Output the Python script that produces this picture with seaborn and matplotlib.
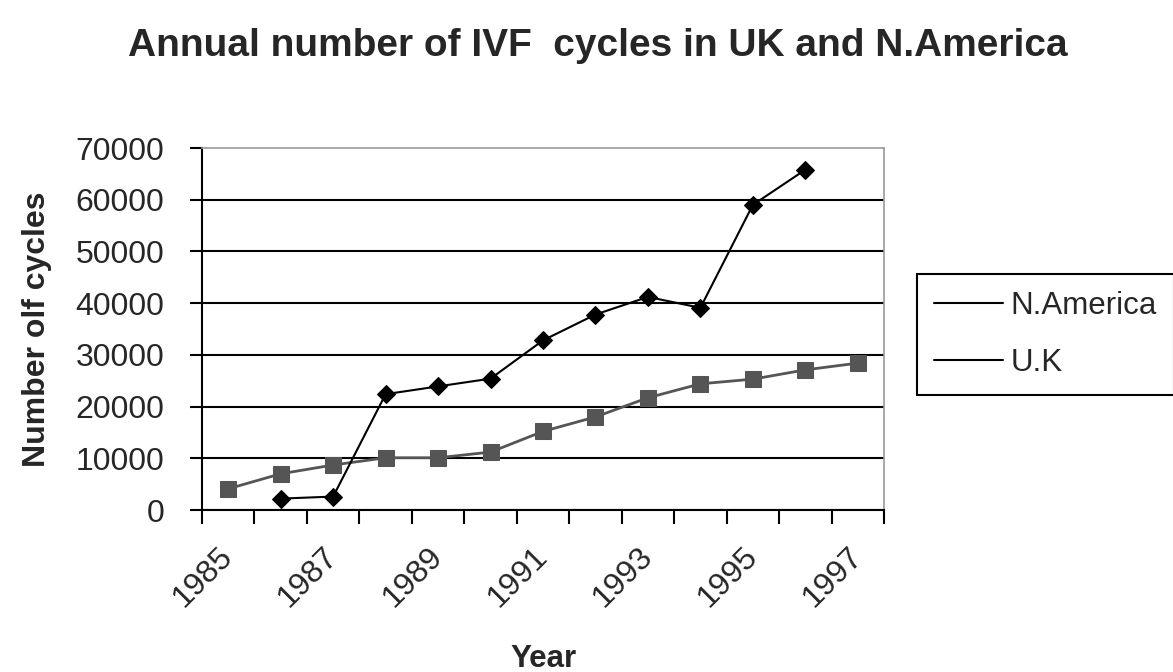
import matplotlib
matplotlib.use("Agg")
import matplotlib.pyplot as plt
import numpy as np
import pandas as pd
import seaborn as sns
from matplotlib.lines import Line2D

# values
years = [1985, 1986, 1987, 1988, 1989, 1990, 1991, 1992, 1993, 1994, 1995, 1996, 1997]
uk_cycles = [4100, 7000, 8700, 10100, 10100, 11200, 15200, 18000, 21700, 24400, 25300, 27100, 28400]
na_cycles = [np.nan, 2200, 2600, 22400, 23900, 25400, 32800, 37800, 41200, 39100, 59000, 65800, np.nan]
year_labels = [1985, 1987, 1989, 1991, 1993, 1995, 1997]
y_ticks = [0, 10000, 20000, 30000, 40000, 50000, 60000, 70000]
series_names = ["N.America", "U.K"]

sns.set_theme(style="white")
plt.rcParams["font.family"] = ["Liberation Sans", "DejaVu Sans"]

fig = plt.figure(figsize=(11.73, 6.72), dpi=100)
ax = fig.add_axes([202 / 1173, 1 - 510 / 672, 682 / 1173, 362 / 672])

df_uk = pd.DataFrame({"Year": years, "Cycles": uk_cycles})
df_na = pd.DataFrame({"Year": years, "Cycles": na_cycles}).dropna()

sns.lineplot(data=df_uk, x="Year", y="Cycles", ax=ax, color="#555555", linewidth=2,
             marker="s", markersize=11.5, markeredgecolor="#555555", legend=False)
sns.lineplot(data=df_na, x="Year", y="Cycles", ax=ax, color="black", linewidth=1.5,
             marker="D", markersize=9.5, markeredgecolor="black", legend=False)

# x axis: category style, marks between years, every other year labelled
ax.set_xlim(1984.5, 1997.5)
ax.set_xticks(year_labels)
ax.set_xticklabels([str(y) for y in year_labels])
ax.set_xticks(np.arange(1984.5, 1998, 1), minor=True)
ax.tick_params(axis="x", which="major", length=0, pad=30, labelsize=23, bottom=True)
ax.tick_params(axis="x", which="minor", length=10, width=1.5, color="black",
               direction="out", bottom=True)
for lab in ax.get_xticklabels():
    lab.set_rotation(45)
    lab.set_ha("right")
    lab.set_va("center")
    lab.set_rotation_mode("anchor")

ax.set_ylim(0, 70000)
ax.set_yticks(y_ticks)
ax.set_yticklabels([str(v) for v in y_ticks])
ax.tick_params(axis="y", length=9, width=1.5, color="black", direction="out",
               pad=18, labelsize=23, left=True)

ax.grid(axis="y", color="black", linewidth=1.5)
ax.xaxis.grid(False)
ax.yaxis.get_major_ticks()[-1].gridline.set_visible(False)

for side in ["left", "bottom"]:
    ax.spines[side].set_color("black")
    ax.spines[side].set_linewidth(1.5)
for side in ["top", "right"]:
    ax.spines[side].set_color("#9a9a9a")
    ax.spines[side].set_linewidth(1.2)

ax.set_xlabel("Year", fontsize=22.5, fontweight="bold")
ax.xaxis.set_label_coords(0.5, -0.37)
ax.set_ylabel("Number olf cycles", fontsize=23, fontweight="bold")
ax.yaxis.set_label_coords(-0.22, 0.5)

handles = [Line2D([], [], color="black", linewidth=1.5),
           Line2D([], [], color="black", linewidth=1.5)]
leg = fig.legend(handles, series_names, loc="upper left",
                 bbox_to_anchor=(917 / 1173, 1 - 274 / 672), fontsize=22.5,
                 frameon=True, fancybox=False, framealpha=1, borderaxespad=0,
                 handlelength=2.2, handletextpad=0.25, labelspacing=0.85, borderpad=0.55)
leg.get_frame().set_edgecolor("black")
leg.get_frame().set_linewidth(1.5)

fig.text(598 / 1173, 1 - 28 / 672, "Annual number of IVF  cycles in UK and N.America",
         ha="center", va="top", fontsize=28, fontweight="bold")

fig.savefig("out.png", dpi=100)
